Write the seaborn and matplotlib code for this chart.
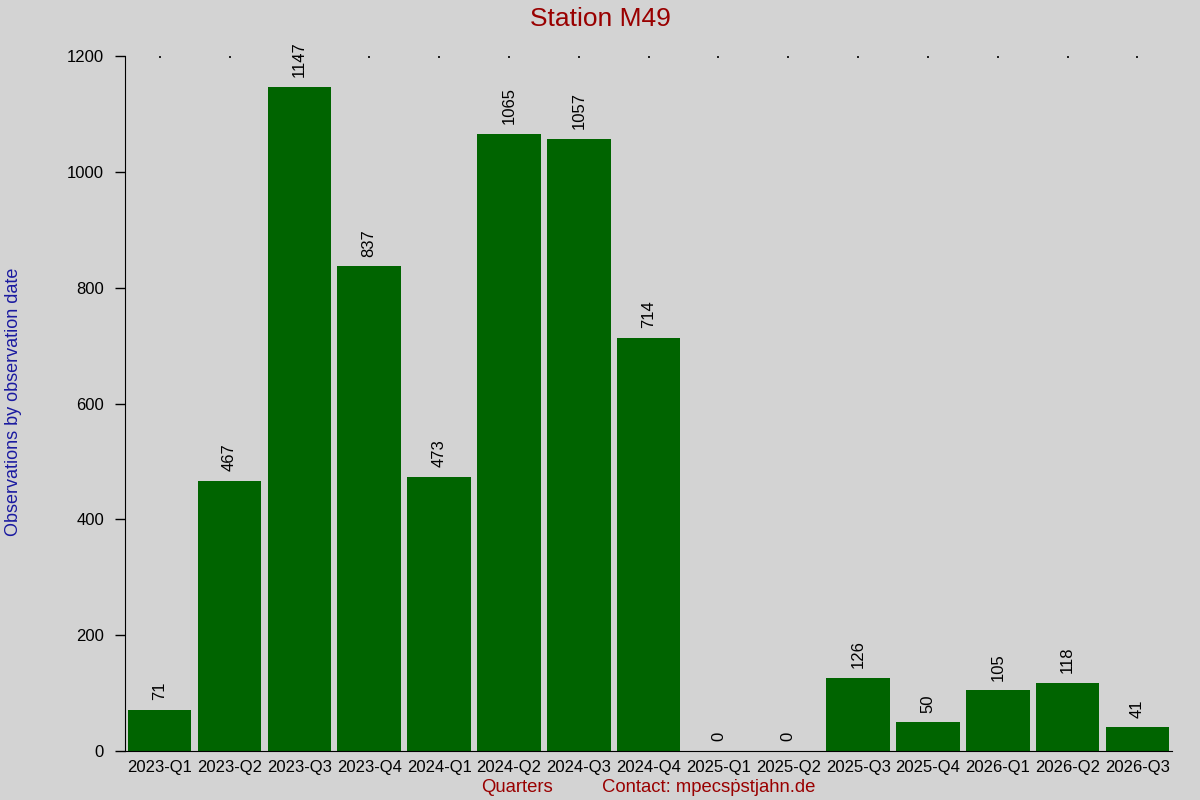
import pandas as pd
import numpy as np
import matplotlib
matplotlib.use('Agg')
import matplotlib.pyplot as plt
import seaborn as sns

# data
quarters = ['2023-Q1', '2023-Q2', '2023-Q3', '2023-Q4', '2024-Q1', '2024-Q2', '2024-Q3', '2024-Q4',
            '2025-Q1', '2025-Q2', '2025-Q3', '2025-Q4', '2026-Q1', '2026-Q2', '2026-Q3']
counts = [71, 467, 1147, 837, 473, 1065, 1057, 714, 0, 0, 126, 50, 105, 118, 41]
yticks = [0, 200, 400, 600, 800, 1000, 1200]

df = pd.DataFrame({'quarter': quarters, 'count': counts})

sns.set_style('ticks', {'axes.facecolor': 'lightgray', 'figure.facecolor': 'lightgray',
                        'text.color': 'black', 'xtick.color': 'black', 'ytick.color': 'black'})
plt.rcParams['font.family'] = ['Liberation Sans', 'DejaVu Sans']

fig = plt.figure(figsize=(12, 8), dpi=100)
ax = fig.add_axes([0.104, 0.061, 0.873, 0.869])
ax.set_facecolor('lightgray')

sns.barplot(data=df, x='quarter', y='count', color='#006400', saturation=1, width=0.91,
            linewidth=0, edgecolor='none', ax=ax)

# value labels above bars
for i, v in enumerate(counts):
    ax.annotate(str(v), (i, v), xytext=(0, 7), textcoords='offset points',
                rotation=90, ha='center', va='bottom', fontsize=12, color='black')

ax.set_xlim(-0.5, len(quarters) - 0.5)
ax.set_ylim(0, 1200)
ax.set_yticks(yticks)
ax.tick_params(axis='y', length=7, width=1, pad=8, labelsize=12, color='black', labelcolor='black')
ax.tick_params(axis='x', bottom=False, top=True, direction='in', length=1.5, width=1.2,
               labelsize=12, pad=6, labelcolor='black')
ax.set_xlabel('')
ax.set_ylabel('')
sns.despine(ax=ax, top=True, right=True)
ax.spines['left'].set_color('black')
ax.spines['bottom'].set_color('black')

fig.text(0.5, 0.991, 'Station M49', ha='center', va='top', fontsize=19, color='#990000')
fig.text(0.004, 0.4975, 'Observations by observation date', rotation=90, ha='left', va='center',
         fontsize=13, color='#1a1aa0')
fig.text(0.431, 0.0155, 'Quarters', ha='center', va='center', fontsize=13.3, color='#990000')
fig.text(0.502, 0.0155, 'Contact: mpecs\u1e57stjahn.de', ha='left', va='center', fontsize=13.3,
         color='#990000')

fig.savefig('out.png', dpi=100, facecolor='lightgray')
